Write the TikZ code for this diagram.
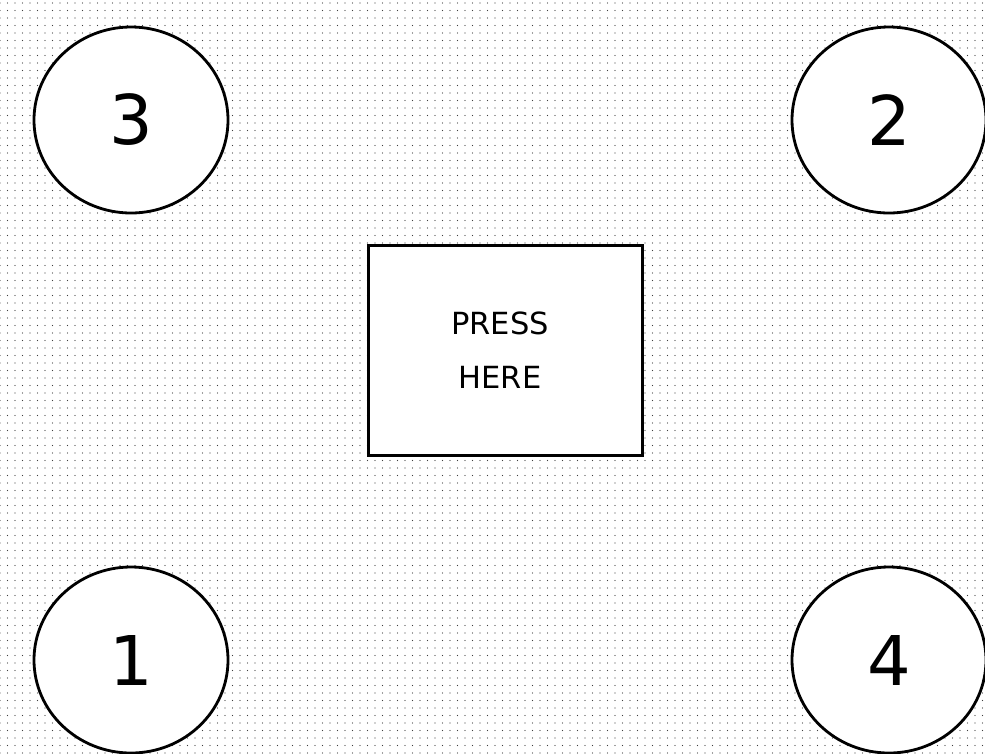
\documentclass[tikz,border=0pt]{standalone}
\usepackage{fontspec}
\setmainfont{DejaVu Sans}
\usetikzlibrary{shapes.geometric,patterns.meta}
\tikzset{
  numcircle/.style={ellipse, draw=black, line width=2.8pt, fill=white,
    minimum width=194pt, minimum height=186pt, inner sep=0pt,
    font=\fontsize{68.6}{70}\selectfont},
  pressbox/.style={rectangle, draw=black, line width=3pt, fill=white,
    minimum width=274pt, minimum height=210pt, inner sep=0pt, align=center,
    font=\fontsize{30.5}{54}\selectfont}
}
\begin{document}
\begin{tikzpicture}[x=1pt,y=-1pt]
  \useasboundingbox (0,0) rectangle (985,753);
  \fill[white] (0,0) rectangle (985,753);
  \fill[pattern={Dots[distance=7.5pt,radius=0.7pt]}, pattern color=black!75] (0,0) rectangle (985,753);
  \node[numcircle] (c3) at (131,120) {3};
  \node[numcircle] (c2) at (889,120) {2};
  \node[numcircle] (c1) at (131,660) {1};
  \node[numcircle] (c4) at (889,660) {4};
  \node[pressbox] (press) at (505,350) {PRESS\hspace*{10pt}\\HERE\hspace*{10pt}};
\end{tikzpicture}
\end{document}
